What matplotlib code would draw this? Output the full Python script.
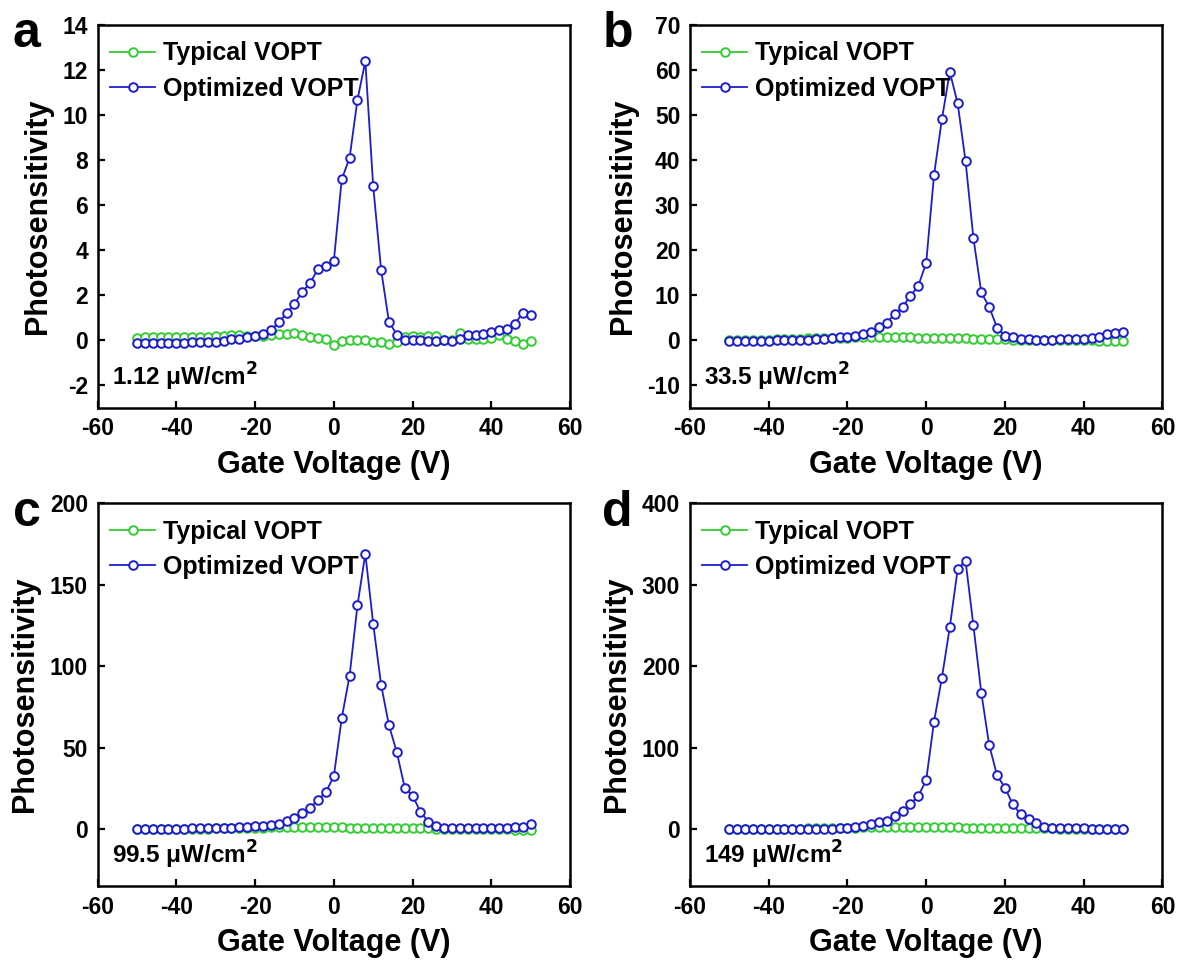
import numpy as np
import matplotlib
matplotlib.use("Agg")
import matplotlib.pyplot as plt

plt.rcParams['font.family'] = ['Liberation Sans', 'DejaVu Sans']
plt.rcParams['font.weight'] = 'bold'
plt.rcParams['axes.unicode_minus'] = False

gate_voltage = np.arange(-50, 51, 2)

# panel a, 1.12 uW/cm2
typical_a = [0.08, 0.12, 0.13, 0.13, 0.14, 0.13, 0.14, 0.14, 0.15, 0.15,
             0.17, 0.20, 0.23, 0.22, 0.20, 0.18, 0.20, 0.25, 0.27, 0.27,
             0.30, 0.22, 0.12, 0.10, 0.07, -0.22, -0.03, 0.03, 0.00, 0.00,
             -0.10, -0.10, -0.18, -0.07, 0.15, 0.18, 0.15, 0.18, 0.20, 0.00,
             0.00, 0.33, 0.07, 0.07, 0.07, 0.10, 0.22, 0.07, -0.03, -0.15, -0.03]
optimized_a = [-0.12, -0.12, -0.12, -0.12, -0.12, -0.12, -0.12, -0.09, -0.07, -0.07,
               -0.07, -0.03, 0.04, 0.07, 0.13, 0.20, 0.27, 0.44, 0.79, 1.19,
               1.61, 2.15, 2.55, 3.17, 3.30, 3.51, 7.14, 8.10, 10.68, 12.39,
               6.84, 3.14, 0.81, 0.25, -0.01, 0.03, 0.03, -0.04, -0.04, 0.00,
               -0.03, 0.07, 0.21, 0.21, 0.27, 0.37, 0.47, 0.50, 0.73, 1.21, 1.10]

# panel b, 33.5 uW/cm2
typical_b = [0.0, 0.05, 0.05, 0.1, 0.1, 0.15, 0.2, 0.25, 0.3, 0.35, 0.4,
             0.45, 0.5, 0.5, 0.55, 0.55, 0.6, 0.6, 0.65, 0.7,
             0.75, 0.7, 0.7, 0.6, 0.5, 0.4, 0.45, 0.5, 0.5, 0.45, 0.4,
             0.35, 0.3, 0.25, 0.3, 0.2, 0.15, 0.1, 0.05, 0.05, 0.0,
             0.0, 0.0, 0.0, 0.0, -0.05, -0.05, -0.1, -0.2, -0.2, -0.2]
optimized_b = [-0.1, -0.1, -0.1, -0.1, -0.1, -0.1, -0.05, 0.0, 0.0, 0.05,
               0.15, 0.2, 0.3, 0.45, 0.6, 0.8, 1.0, 1.3, 1.9, 2.9,
               3.9, 5.8, 7.4, 9.8, 12.1, 17.1, 36.7, 49.1, 59.6, 52.6,
               39.8, 22.7, 10.6, 7.4, 2.8, 1.0, 0.6, 0.3, 0.2, 0.15,
               0.15, 0.15, 0.2, 0.25, 0.3, 0.35, 0.45, 0.7, 1.4, 1.7, 1.9]

# panel c, 99.5 uW/cm2
typical_c = [0.0, 0.05, 0.05, 0.1, 0.1, 0.15, 0.15, 0.2, 0.25, 0.3,
             0.35, 0.4, 0.5, 0.6, 0.7, 0.8, 0.9, 1.0, 1.1, 1.2,
             1.3, 1.3, 1.3, 1.2, 1.1, 1.0, 1.0, 0.9, 0.9, 0.8,
             0.8, 0.7, 0.7, 0.6, 0.6, 0.5, 0.5, 0.4, 0.3, 0.2,
             0.1, 0.1, 0.0, 0.0, -0.1, -0.1, -0.2, -0.3, -0.4, -0.5, -0.5]
optimized_c = [0.3, 0.3, 0.3, 0.3, 0.3, 0.3, 0.3, 0.35, 0.35, 0.4,
               0.4, 0.6, 0.8, 1.0, 1.2, 1.6, 2.0, 2.7, 3.3, 5.1,
               7.0, 9.6, 13.1, 18.0, 22.7, 32.4, 68.0, 94.1, 137.3, 169.1,
               126.0, 88.7, 63.7, 47.1, 25.4, 20.5, 10.5, 4.5, 2.0, 0.8,
               0.6, 0.6, 0.6, 0.6, 0.6, 0.7, 0.7, 0.8, 1.0, 1.4, 3.1]

# panel d, 149 uW/cm2
typical_d = [0.0, 0.1, 0.1, 0.2, 0.2, 0.3, 0.3, 0.4, 0.5, 0.6,
             0.7, 0.8, 1.0, 1.2, 1.4, 1.6, 1.8, 2.0, 2.2, 2.4,
             2.5, 2.5, 2.5, 2.4, 2.3, 2.2, 2.1, 2.0, 2.0, 1.9,
             1.8, 1.7, 1.6, 1.5, 1.4, 1.3, 1.2, 1.1, 1.0, 0.9,
             0.8, 0.7, 0.6, 0.5, 0.4, 0.4, 0.3, 0.3, 0.2, 0.2, 0.2]
optimized_d = [0.2, 0.2, 0.2, 0.2, 0.2, 0.2, 0.2, 0.2, 0.25, 0.3,
               0.3, 0.4, 0.5, 0.6, 0.8, 1.6, 2.9, 3.7, 5.7, 8.2,
               9.8, 16.0, 22.0, 30.7, 40.6, 59.8, 132.0, 185.7, 248.0, 319.0,
               329.5, 250.0, 167.6, 103.3, 66.0, 50.8, 30.3, 18.0, 12.7, 7.4,
               2.9, 1.5, 1.2, 1.0, 0.8, 0.7, 0.6, 0.5, 0.4, 0.4, 0.4]

panel_letters = ['a', 'b', 'c', 'd']
intensities = ['1.12 μW/cm$^{\\mathbf{2}}$', '33.5 μW/cm$^{\\mathbf{2}}$',
               '99.5 μW/cm$^{\\mathbf{2}}$', '149 μW/cm$^{\\mathbf{2}}$']
y_limits = [(-3, 14), (-15, 70), (-35, 200), (-70, 400)]
y_ticks = [np.arange(-2, 15, 2), np.arange(-10, 71, 10),
           np.arange(0, 201, 50), np.arange(0, 401, 100)]

GREEN = '#33cc33'
BLUE = '#1c1ccc'


def draw_panel(ax, typical, optimized, label, ylim, yticks):
    ax.plot(gate_voltage, typical, '-o', color=GREEN, lw=1.3, ms=6.2,
            mfc='white', mec=GREEN, mew=1.4, label='Typical VOPT')
    ax.plot(gate_voltage, optimized, '-o', color=BLUE, lw=1.3, ms=6.2,
            mfc='white', mec=BLUE, mew=1.4, label='Optimized VOPT')

    ax.set_xlim(-60, 60)
    ax.set_ylim(*ylim)
    ax.set_xticks(np.arange(-60, 61, 20))
    ax.set_yticks(yticks)
    ax.tick_params(direction='in', length=5, width=1.6, labelsize=16.5, pad=7)
    for lab in ax.get_xticklabels() + ax.get_yticklabels():
        lab.set_fontweight('bold')
    for sp in ax.spines.values():
        sp.set_linewidth(1.8)

    ax.set_xlabel('Gate Voltage (V)', fontsize=22, fontweight='bold', labelpad=7)
    ax.set_ylabel('Photosensitivity', fontsize=22, fontweight='bold', labelpad=7)

    ax.legend(loc='upper left', bbox_to_anchor=(0.0, 0.99), frameon=False,
              handlelength=1.8, handletextpad=0.3, labelspacing=0.45,
              borderaxespad=0.2, borderpad=0.3,
              prop={'weight': 'bold', 'size': 18})
    ax.text(0.03, 0.08, label, transform=ax.transAxes, fontsize=17.5,
            fontweight='bold', va='center', ha='left')


def main():
    fig = plt.figure(figsize=(11.79, 9.6), dpi=100)
    lefts = [0.0828, 0.5852, 0.0828, 0.5852]
    bottoms = [0.5753, 0.5753, 0.0771, 0.0771]
    letter_pos = [(0.011, 0.951), (0.511, 0.951), (0.011, 0.452), (0.511, 0.452)]
    data = [(typical_a, optimized_a), (typical_b, optimized_b),
            (typical_c, optimized_c), (typical_d, optimized_d)]

    for i in range(4):
        ax = fig.add_axes([lefts[i], bottoms[i], 0.4007, 0.3986])
        draw_panel(ax, data[i][0], data[i][1], intensities[i],
                   y_limits[i], y_ticks[i])
        fig.text(letter_pos[i][0], letter_pos[i][1], panel_letters[i],
                 fontsize=36, fontweight='bold', va='baseline', ha='left')

    fig.savefig('out.png', dpi=100)


if __name__ == "__main__":
    main()
